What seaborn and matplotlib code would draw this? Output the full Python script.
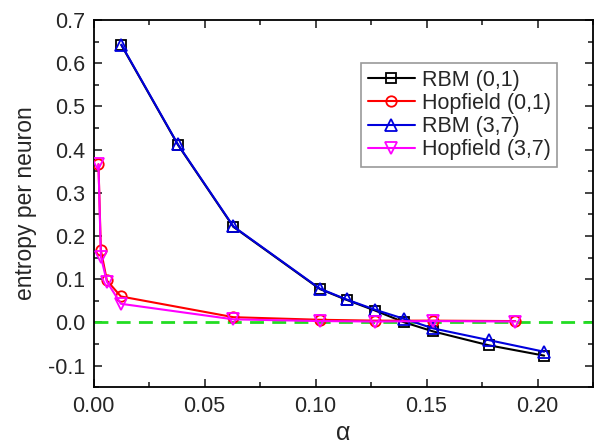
import matplotlib
matplotlib.use("Agg")
import matplotlib.pyplot as plt
import numpy as np
import pandas as pd
import seaborn as sns
from matplotlib.ticker import MultipleLocator, FormatStrFormatter

# values
alpha_rbm = [0.0125, 0.038, 0.063, 0.102, 0.114, 0.127, 0.140, 0.153, 0.178, 0.203]
rbm_01 = [0.642, 0.411, 0.221, 0.077, 0.052, 0.027, 0.000, -0.021, -0.053, -0.077]
rbm_37 = [0.643, 0.412, 0.222, 0.078, 0.053, 0.029, 0.008, -0.014, -0.041, -0.068]

alpha_hop = [0.0022, 0.0033, 0.006, 0.0123, 0.063, 0.102, 0.127, 0.153, 0.190]
hop_01 = [0.366, 0.167, 0.097, 0.060, 0.012, 0.006, 0.004, 0.004, 0.003]
hop_37 = [0.366, 0.152, 0.094, 0.043, 0.007, 0.003, 0.002, 0.003, 0.002]

series = [
    ("RBM (0,1)", alpha_rbm, rbm_01, "black", "s", 6.5),
    ("Hopfield (0,1)", alpha_hop, hop_01, "red", "o", 7.5),
    ("RBM (3,7)", alpha_rbm, rbm_37, "#0000dd", "^", 8),
    ("Hopfield (3,7)", alpha_hop, hop_37, "magenta", "v", 8),
]

sns.set_theme(style="ticks")
plt.rcParams["font.family"] = ["Liberation Sans", "DejaVu Sans"]
plt.rcParams["font.size"] = 15.5

fig = plt.figure(figsize=(5.96, 4.44), dpi=100)
ax = fig.add_axes([0.157, 0.128, 0.838, 0.827])

ax.axhline(0, color="#22dd22", lw=2, ls=(0, (5, 3)), zorder=1)

for name, xs, ys, col, mk, ms in series:
    df = pd.DataFrame({"alpha": xs, "S": ys})
    sns.lineplot(data=df, x="alpha", y="S", ax=ax, color=col, lw=1.5,
                 marker=mk, markersize=ms, markerfacecolor="none",
                 markeredgecolor=col, markeredgewidth=1.3,
                 sort=False, label=name, zorder=3)

ax.set_xlim(0, 0.225)
ax.set_ylim(-0.15, 0.7)
ax.xaxis.set_major_locator(MultipleLocator(0.05))
ax.xaxis.set_minor_locator(MultipleLocator(0.025))
ax.yaxis.set_major_locator(MultipleLocator(0.1))
ax.yaxis.set_minor_locator(MultipleLocator(0.05))
ax.xaxis.set_major_formatter(FormatStrFormatter("%.2f"))
ax.yaxis.set_major_formatter(FormatStrFormatter("%.1f"))
ax.tick_params(which="both", direction="in", top=True, right=True,
               labelsize=15.5, width=1.2)
ax.tick_params(which="major", length=6, pad=6)
ax.tick_params(which="minor", length=3.5)
for s in ax.spines.values():
    s.set_linewidth(1.3)
    s.set_color("black")

ax.set_xlabel("α", fontsize=18, labelpad=3)
ax.set_ylabel("entropy per neuron", fontsize=16.5, labelpad=8)

leg = ax.legend(loc="upper right", bbox_to_anchor=(0.928, 0.882), fontsize=15.5,
                frameon=True, fancybox=False, handlelength=2.2,
                handletextpad=0.3, borderpad=0.3, labelspacing=0.1,
                borderaxespad=0)
leg.get_frame().set_edgecolor("gray")
leg.get_frame().set_linewidth(1.2)

fig.savefig("out.png", dpi=100)
